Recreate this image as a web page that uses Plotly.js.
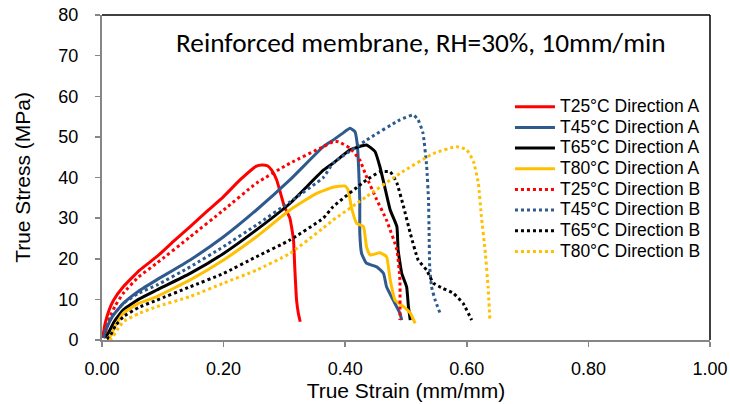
<!DOCTYPE html>
<html>
<head>
<meta charset="utf-8">
<script src="https://cdn.plot.ly/plotly-3.0.1.min.js"></script>
<style>html,body{margin:0;padding:0;background:#fff;}#chart{width:730px;height:404px;}</style>
</head>
<body>
<div id="chart"></div>
<script>
// ---- Data ----
const seriesNames = ["T25°C Direction A","T45°C Direction A","T65°C Direction A","T80°C Direction A",
                     "T25°C Direction B","T45°C Direction B","T65°C Direction B","T80°C Direction B"];

const t25A_x = [0.001,0.005,0.012,0.019,0.035,0.062,0.09,0.117,0.145,0.172,0.2,0.227,0.254,0.263,0.272,0.279,0.287,0.293,0.3,0.309,0.315,0.317,0.320,0.323,0.326];
const t25A_y = [0.5,4,7.5,9.8,13.1,17.2,20.5,24.2,27.9,31.6,35.3,39.4,42.8,43.1,42.9,41.8,39.5,36.5,32.8,30.0,24.6,18.0,9.8,6.5,4.5];

const t45A_x = [0.003,0.008,0.018,0.035,0.06,0.09,0.145,0.2,0.254,0.309,0.364,0.38,0.395,0.408,0.416,0.42,0.422,0.424,0.424,0.427,0.435,0.452,0.463,0.468,0.479,0.49,0.493];
const t45A_y = [0.5,3,6,9.0,12,14.8,19.7,25.4,32,39.4,47.6,49.2,50.8,52.1,51.3,48,42.7,34.5,26.3,21.3,18.9,18.0,16.4,13.1,9.8,6.6,4.9];

const t65A_x = [0.005,0.01,0.02,0.035,0.06,0.09,0.145,0.2,0.254,0.309,0.364,0.38,0.408,0.435,0.449,0.457,0.465,0.474,0.485,0.487,0.493,0.501,0.504,0.507];
const t65A_y = [0.5,1.6,4.5,7.4,10,12.3,16.4,21.3,27.1,33.6,41.8,43.5,46.8,48.0,46.4,42.7,37.7,32.0,27.9,22.2,16.4,13.1,8.2,4.9];

const t80A_x = [0.008,0.013,0.022,0.035,0.06,0.09,0.145,0.2,0.254,0.309,0.353,0.38,0.4,0.405,0.41,0.419,0.43,0.435,0.441,0.457,0.468,0.474,0.482,0.496,0.507,0.515];
const t80A_y = [0.3,0.8,3.5,6.6,9,10.7,14.8,19.7,25.4,32,36.1,37.6,37.9,36.9,32.8,28.7,27.9,23.0,20.9,21.5,20.5,14.8,9.8,8.2,6.6,4.1];

const t25B_x = [0.002,0.008,0.013,0.022,0.035,0.06,0.09,0.145,0.2,0.254,0.309,0.364,0.38,0.389,0.408,0.424,0.435,0.452,0.468,0.485,0.49,0.49];
const t25B_y = [0.5,3.5,5.7,8.5,11.5,15.5,18.9,25.4,32,38.6,43.5,47.6,48.8,48.8,47.2,44.3,40.2,34.5,29.5,22.2,14.8,4.9];

const t45B_x = [0.003,0.005,0.015,0.035,0.06,0.09,0.145,0.2,0.254,0.309,0.364,0.38,0.435,0.49,0.512,0.52,0.528,0.534,0.537,0.538,0.539,0.542,0.548,0.556];
const t45B_y = [0.5,2.5,5.5,9.0,11.5,13.5,18,23.0,28.3,34.0,40.0,43.5,49.2,54.2,55.4,54.2,50.9,42.7,34.5,26.3,18.0,13.1,9.8,6.6];

const t65B_x = [0.008,0.013,0.022,0.035,0.06,0.09,0.145,0.2,0.254,0.309,0.364,0.38,0.435,0.457,0.474,0.485,0.496,0.507,0.52,0.534,0.545,0.561,0.578,0.594,0.608];
const t65B_y = [0.3,0.8,3.5,5.7,8,9.8,13.1,16.4,20.5,24.6,30,32.8,39.4,41.4,41.4,38.6,32.8,26.3,19.7,17.2,14.0,12.7,11.5,9.0,4.9];

const t80B_x = [0.012,0.016,0.025,0.035,0.06,0.09,0.145,0.2,0.254,0.309,0.364,0.38,0.435,0.49,0.545,0.583,0.6,0.611,0.619,0.624,0.63,0.635,0.638];
const t80B_y = [0.2,0.4,2.5,4.5,6.5,8.2,10.7,14.0,17.2,21.3,27.6,29.5,35.3,41,45.9,47.6,46.8,43.9,38.6,30.4,22.2,13.1,4.9];

const xTickVals = [0,0.2,0.4,0.6,0.8,1.0];
const xTickText = ["0.00","0.20","0.40","0.60","0.80","1.00"];
const yTickVals = [0,10,20,30,40,50,60,70,80];

// ---- Styling ----
const red = "#FF0000", blue = "#2F5A8E", black = "#000000", yellow = "#FFC000";
const xs = [t25A_x,t45A_x,t65A_x,t80A_x,t25B_x,t45B_x,t65B_x,t80B_x];
const ys = [t25A_y,t45A_y,t65A_y,t80A_y,t25B_y,t45B_y,t65B_y,t80B_y];
const colors = [red,blue,black,yellow,red,blue,black,yellow];
const dashes = ["solid","solid","solid","solid","dot","dot","dot","dot"];

const traces = xs.map((x,i)=>({
  x:x, y:ys[i], type:"scatter", mode:"lines",
  name:'<span style="font-size:17.5px">' + seriesNames[i] + '</span>',
  line:{color:colors[i], width:3, dash:dashes[i], shape:"spline", smoothing:0.4}
}));

const fam = "Liberation Sans, Arial, sans-serif";
const tickFont = {family:fam, size:18, color:"#000"};
const layout = {
  width:730, height:404,
  margin:{l:102, r:20, t:15, b:64},
  paper_bgcolor:"#fff", plot_bgcolor:"#fff",
  showlegend:true,
  legend:{x:0.671, y:0.765, xanchor:"left", yanchor:"top",
          font:{family:fam, size:13.6, color:"#000"},
          bgcolor:"rgba(0,0,0,0)", borderwidth:0, tracegroupgap:0, itemwidth:40},
  xaxis:{range:[0,1], tickvals:xTickVals, ticktext:xTickText, showgrid:false, zeroline:false,
         showline:true, linecolor:"#868686", linewidth:2, ticks:"outside", ticklen:5, tickwidth:1.5, tickcolor:"#868686",
         tickfont:tickFont, ticklabelstandoff:6,
         title:{text:"True Strain (mm/mm)", font:{family:fam, size:21, color:"#000"}, standoff:2}},
  yaxis:{range:[0,80], tickvals:yTickVals, showgrid:false, zeroline:false,
         showline:true, linecolor:"#868686", linewidth:2, ticks:"outside", ticklen:5, tickwidth:1.5, tickcolor:"#868686",
         tickfont:tickFont, ticklabelstandoff:13,
         title:{text:"True Stress (MPa)", font:{family:fam, size:21, color:"#000"}, standoff:22}},
  shapes:[
    {type:"line", xref:"paper", yref:"paper", x0:0, x1:1, y0:1, y1:1, line:{color:"#000", width:1.5}},
    {type:"line", xref:"paper", yref:"paper", x0:1, x1:1, y0:0, y1:1, line:{color:"#000", width:1.5}}
  ],
  annotations:[
    {text:"Reinforced membrane, RH=30%, 10mm/min", xref:"paper", yref:"paper", x:0.525, y:0.914,
     xanchor:"center", yanchor:"middle", showarrow:false,
     font:{family:"Carlito, Lato, sans-serif", size:27.3, color:"#000"}}
  ]
};

Plotly.newPlot("chart", traces, layout, {displayModeBar:false, staticPlot:true});
</script>
</body>
</html>
